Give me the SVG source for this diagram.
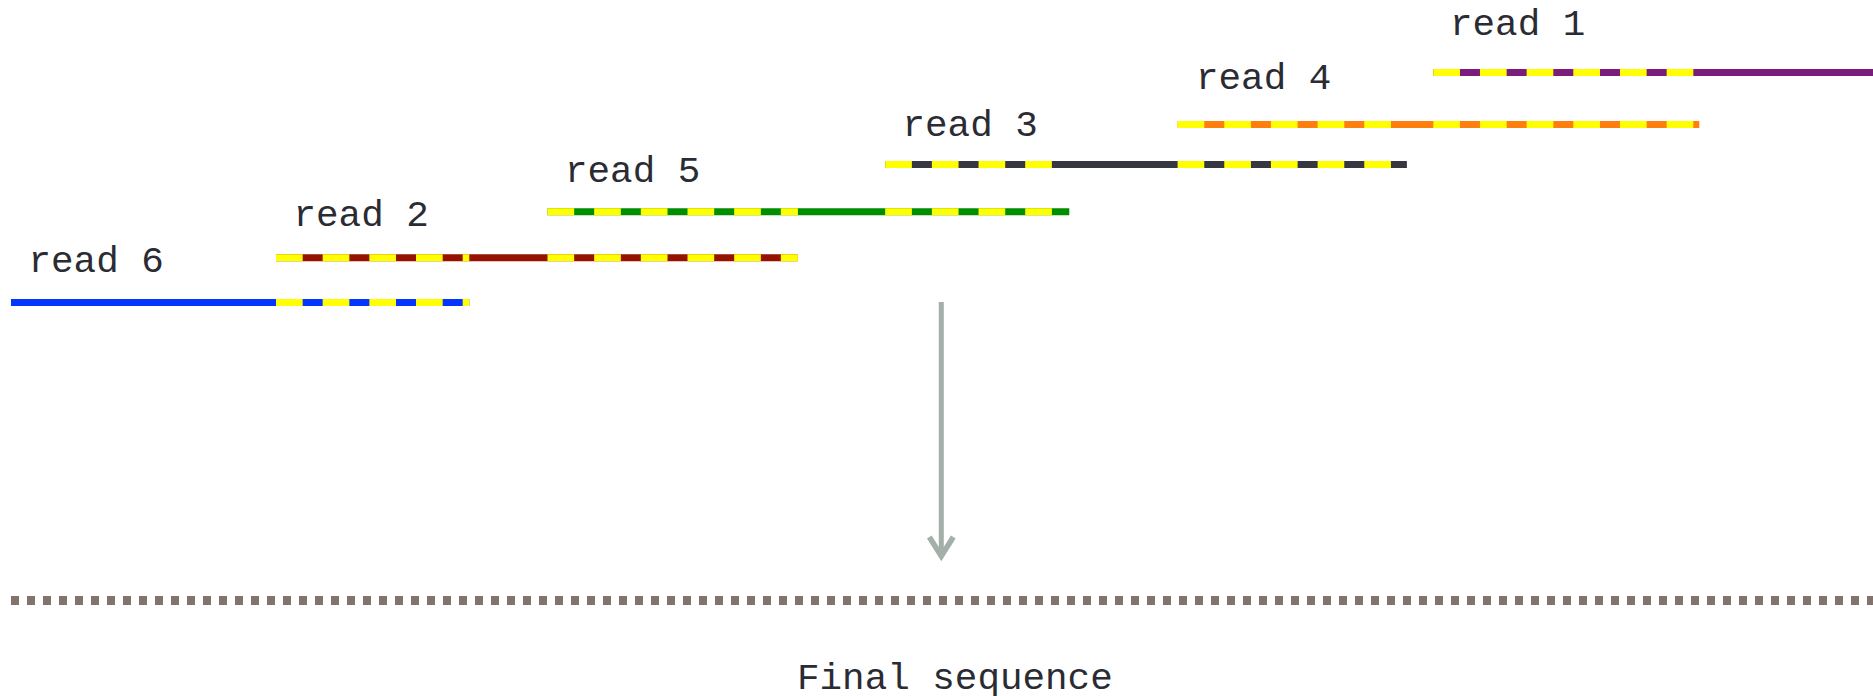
<svg xmlns="http://www.w3.org/2000/svg" width="1873" height="696" viewBox="0 0 1873 696">
  <style>
    .lbl { font-family: "Liberation Mono", "Courier New", monospace; font-size: 37.6px; fill: #2b2b33; }
    .base { stroke-width: 7; fill: none; stroke-linecap: butt; }
    .ov { stroke: #ffff00; stroke-width: 7; stroke-dasharray: 26.67 20; stroke-linecap: butt; }
    .arrow { stroke: #a5afa9; stroke-width: 5; fill: none; }
  </style>
  <defs>
    <marker id="chev" markerUnits="userSpaceOnUse" viewBox="-30 -20 40 40" markerWidth="40" markerHeight="40" refX="0" refY="0" orient="auto" overflow="visible">
      <path d="M-19,-12 L0,0 L-19,12" fill="none" stroke="#a5afa9" stroke-width="5.5" stroke-linejoin="miter"/>
    </marker>
  </defs>
  <rect width="1873" height="696" fill="#ffffff"/>

  <g id="read1">
    <line class="base" x1="1433.3" y1="72.5" x2="1873" y2="72.5" stroke="#7b1c7d"/>
    <line class="ov" x1="1433.3" y1="72.5" x2="1699.3" y2="72.5"/>
    <text class="lbl" x="1450" y="34.5">read 1</text>
  </g>
  <g id="read4">
    <line class="base" x1="1177.6" y1="124.5" x2="1699.3" y2="124.5" stroke="#ff7f0e"/>
    <line class="ov" x1="1177.6" y1="124.5" x2="1406.9" y2="124.5"/>
    <line class="ov" x1="1433.3" y1="124.5" x2="1699.3" y2="124.5"/>
    <text class="lbl" x="1196" y="89">read 4</text>
  </g>
  <g id="read3">
    <line class="base" x1="885.2" y1="164.5" x2="1406.9" y2="164.5" stroke="#373741"/>
    <line class="ov" x1="885.2" y1="164.5" x2="1069.3" y2="164.5"/>
    <line class="ov" x1="1177.6" y1="164.5" x2="1406.9" y2="164.5"/>
    <text class="lbl" x="902.5" y="135.5">read 3</text>
  </g>
  <g id="read5">
    <line class="base" x1="547.5" y1="211.8" x2="1069.3" y2="211.8" stroke="#008e00"/>
    <line class="ov" x1="547.5" y1="211.8" x2="797.9" y2="211.8"/>
    <line class="ov" x1="885.2" y1="211.8" x2="1069.3" y2="211.8"/>
    <text class="lbl" x="565" y="182">read 5</text>
  </g>
  <g id="read2">
    <line class="base" x1="276" y1="257.8" x2="797.9" y2="257.8" stroke="#961200"/>
    <line class="ov" x1="276" y1="257.8" x2="469.3" y2="257.8"/>
    <line class="ov" x1="547.5" y1="257.8" x2="797.9" y2="257.8"/>
    <text class="lbl" x="293.5" y="225.5">read 2</text>
  </g>
  <g id="read6">
    <line class="base" x1="11" y1="302.5" x2="469.3" y2="302.5" stroke="#0335ff"/>
    <line class="ov" x1="276" y1="302.5" x2="469.3" y2="302.5"/>
    <text class="lbl" x="28.5" y="272">read 6</text>
  </g>

  <g id="final-sequence">
    <line x1="11" y1="600.5" x2="1873" y2="600.5" stroke="#84736a" stroke-width="9" stroke-dasharray="8 8"/>
    <text class="lbl" x="797" y="688.5">Final sequence</text>
  </g>

  <g id="connectors">
    <line class="arrow" x1="941.3" y1="302" x2="941.3" y2="556" marker-end="url(#chev)"/>
  </g>
</svg>
